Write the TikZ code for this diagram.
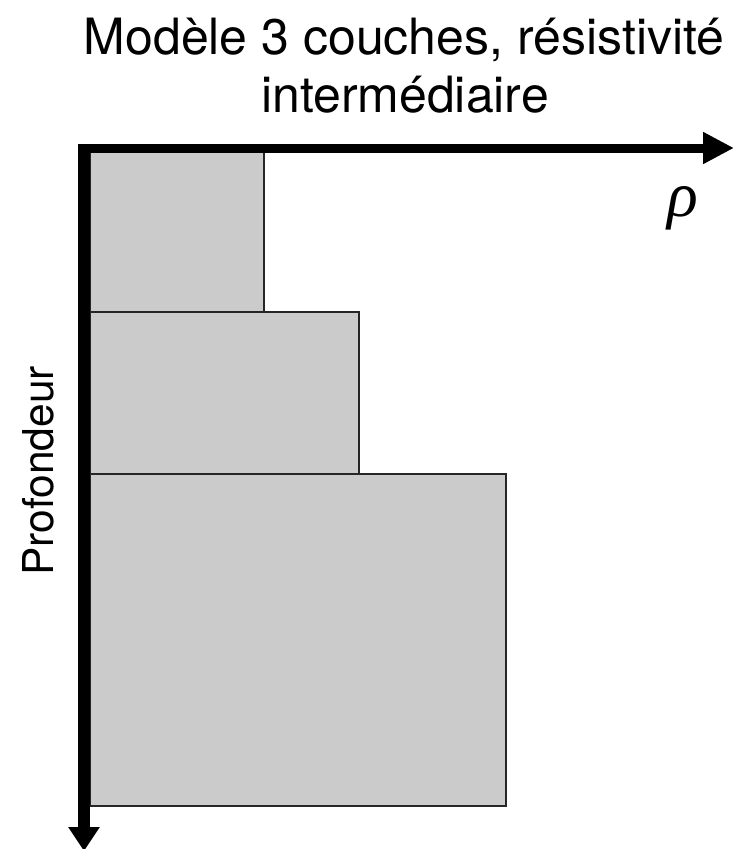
\documentclass[tikz,border=0pt]{standalone}
\usepackage{fontspec}
\setmainfont{TeX Gyre Heros}
\newfontfamily\rhofont{Liberation Serif}
\usetikzlibrary{arrows.meta}
\definecolor{boxgray}{HTML}{CBCBCB}
\begin{document}
\begin{tikzpicture}[x=1pt,y=-1pt,
  layer/.style={fill=boxgray, draw=black!85, line width=1.5pt},
  titlefont/.style={font=\fontsize{50}{60}\selectfont, anchor=base},
  haxis/.style={line width=9pt, line cap=butt, -{Triangle[length=31pt,width=30pt]}},
  vaxis/.style={line width=12pt, line cap=butt, -{Triangle[length=24pt,width=30pt]}}]
\useasboundingbox (0,0) rectangle (743,849);
% layers
\draw[layer] (90,152) rectangle (264,312);
\draw[layer] (90,312) rectangle (359,474);
\draw[layer] (90,474) rectangle (506,806);
% axes
\coordinate (xstart) at (78,148);
\coordinate (xend) at (734,148);
\coordinate (ystart) at (84,143.5);
\coordinate (yend) at (84,851);
\draw[haxis] (xstart) -- (xend);
\draw[vaxis] (ystart) -- (yend);
% texts
\node[titlefont] (title1) at (404,54) {Modèle 3 couches, résistivité};
\node[titlefont] (title2) at (405,112) {intermédiaire};
\node[rotate=90, anchor=base, font=\fontsize{42.5}{42.5}\selectfont] (depth) at (53,471) {Profondeur};
\node (rho) at (683,208) {\rhofont\itshape\fontsize{64}{64}\selectfont ρ};
\end{tikzpicture}
\end{document}
